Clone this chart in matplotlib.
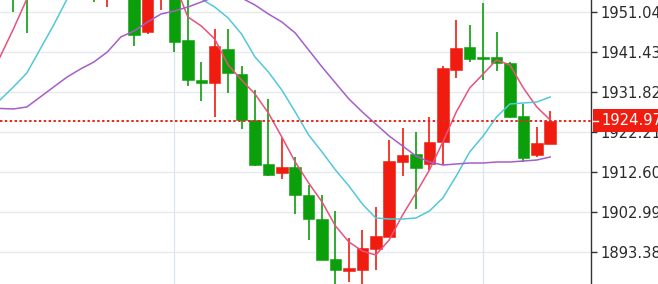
import numpy as np
import matplotlib
matplotlib.use("Agg")
import matplotlib.pyplot as plt
import matplotlib.transforms as mtransforms
from matplotlib.patches import Rectangle

nan = np.nan

# candles (index 0..41), nan = candle entirely above the visible window
opens = [nan, 1958.5, 1957.5, nan, nan, nan, nan, 1958.0, 1955.5, nan,
         1956.0, 1946.24, 1954.5, 1955.5, 1944.31, 1934.70, 1933.98, 1942.15, 1936.14, 1925.09,
         1914.52, 1912.36, 1913.80, 1907.08, 1901.31, 1891.70, 1888.82, 1889.06, 1894.10, 1896.98,
         1915.00, 1916.92, 1914.52, 1919.81, 1937.11, 1942.63, 1940.11, 1940.23, 1938.79, 1926.05,
         1916.68, 1919.33]
highs = [nan, 1960.0, 1959.0, nan, nan, nan, nan, 1961.0, 1960.0, nan,
         1958.0, 1957.0, 1958.0, 1957.0, 1954.5, 1939.03, 1946.96, 1946.96, 1938.07, 1932.30,
         1930.14, 1920.77, 1916.20, 1909.48, 1907.08, 1903.23, 1896.74, 1898.67, 1904.19, 1920.29,
         1923.17, 1922.21, 1925.81, 1938.07, 1949.12, 1947.92, 1953.20, 1946.24, 1939.03, 1928.94,
         1923.41, 1927.26]
lows = [nan, 1951.04, 1946.00, nan, nan, nan, nan, 1953.40, 1952.20, nan,
        1942.87, 1945.75, 1951.52, 1941.43, 1933.26, 1929.66, 1925.81, 1931.58, 1922.93, 1914.04,
        1911.64, 1910.92, 1902.51, 1896.26, 1891.46, 1884.50, 1886.17, 1885.20, 1889.06, 1896.98,
        1911.64, 1903.71, 1913.08, 1914.28, 1935.18, 1939.03, 1934.70, 1936.87, 1925.57, 1915.00,
        1916.20, 1919.33]
closes = [nan, 1956.0, 1955.0, nan, nan, nan, nan, 1956.5, 1958.5, nan,
          1945.51, 1955.0, 1957.0, 1943.83, 1934.70, 1933.98, 1942.87, 1936.38, 1925.09, 1914.28,
          1911.88, 1913.80, 1907.08, 1901.31, 1891.46, 1889.06, 1889.54, 1894.34, 1897.22, 1915.24,
          1916.68, 1913.56, 1919.81, 1937.59, 1942.39, 1939.75, 1939.75, 1938.79, 1925.81, 1915.96,
          1919.57, 1924.97]

# moving averages
ma5 = [1940.23, 1946.96, 1954.16, 1958.5, 1959.5, 1960.0, 1960.0, 1959.5, 1959.0, 1959.0,
       1958.5, 1958.5, 1958.2, 1958.0, 1949.84, 1947.68, 1944.55, 1938.31, 1934.70, 1931.34,
       1926.77, 1921.01, 1915.00, 1909.96, 1905.39, 1899.63, 1895.78, 1893.62, 1892.66, 1896.26,
       1902.27, 1907.56, 1913.08, 1919.81, 1927.02, 1932.78, 1936.14, 1939.51, 1938.31, 1932.78,
       1928.22, 1925.09]
ma10 = [1929.90, 1933.02, 1936.38, 1942.15, 1947.92, 1954.16, 1957.5, 1958.5, 1959.0, 1959.0,
        1959.0, 1958.5, 1958.0, 1957.5, 1956.33, 1954.16, 1952.24, 1949.60, 1945.75, 1940.23,
        1936.63, 1932.30, 1927.02, 1921.49, 1917.40, 1913.08, 1909.24, 1904.91, 1901.55, 1901.31,
        1901.31, 1901.55, 1903.23, 1906.35, 1911.64, 1917.40, 1921.25, 1925.81, 1928.94, 1929.18,
        1929.42, 1930.62]
ma20 = [1927.86, 1927.74, 1928.22, 1930.62, 1933.02, 1935.42, 1937.35, 1939.03, 1941.43, 1945.03,
        1946.48, 1948.64, 1950.56, 1951.28, 1952.24, 1953.44, 1954.64, 1955.12, 1954.40, 1952.72,
        1950.56, 1948.64, 1946.00, 1941.91, 1937.83, 1933.98, 1930.14, 1927.02, 1924.13, 1921.25,
        1918.85, 1916.44, 1915.00, 1914.28, 1914.52, 1914.76, 1914.76, 1915.00, 1915.00, 1915.24,
        1915.48, 1916.20]

price_ticks = [1893.38, 1902.99, 1912.60, 1922.21, 1931.82, 1941.43, 1951.04]
last_price = 1924.97
vgrid_idx = [13, 36]

RED = "#f01c10"
GREEN = "#0c9f0c"

o = np.array(opens)
h = np.array(highs)
l = np.array(lows)
c = np.array(closes)
x = np.arange(len(o))
cols = np.where(c >= o, RED, GREEN)
ok = ~np.isnan(o)

fig = plt.figure(figsize=(6.58, 2.84), dpi=100)
ax = fig.add_axes([0, 0, 591 / 658, 1])

ax.set_xlim(0, 44.04)
ax.set_ylim(1885.69, 1953.92)

# grid
for t in price_ticks:
    ax.axhline(t, color="#e6e9ee", lw=1.0, zorder=0)
for v in vgrid_idx:
    ax.axvline(v, color="#dde6ef", lw=1.0, zorder=0)

# candles
ax.vlines(x[ok], l[ok], h[ok], colors=cols[ok], lw=1.2, zorder=2)
ax.bar(x[ok], c[ok] - o[ok], bottom=o[ok], width=0.86, color=cols[ok],
       edgecolor=cols[ok], linewidth=0.4, zorder=3)

# moving averages
ax.plot(x, ma5, color="#e8527c", lw=1.1, zorder=4)
ax.plot(x, ma10, color="#52c8d8", lw=1.1, zorder=4)
ax.plot(x, ma20, color="#a65ec8", lw=1.1, zorder=4)

# last price line
ax.axhline(last_price, color="#e8261f", lw=1.4, ls=(0, (1.25, 1.25)), zorder=5)

# axis styling
for s in ["left", "top", "bottom"]:
    ax.spines[s].set_visible(False)
ax.spines["right"].set_color("#333333")
ax.spines["right"].set_linewidth(1.0)
ax.set_xticks([])
ax.yaxis.tick_right()
ax.set_yticks(price_ticks)
ax.set_yticklabels([f"{t:.2f}" for t in price_ticks])
ax.tick_params(axis="y", length=4, width=1, color="#333333", labelcolor="#2a2a2a",
               labelsize=10.6, pad=3)

# last price label box on the axis
trans = mtransforms.blended_transform_factory(ax.transAxes, ax.transData)
box_h = 23 * (1953.92 - 1885.69) / 284
ax.add_patch(Rectangle((1.003, last_price - box_h / 2), 0.2, box_h, transform=trans,
                       facecolor="#f01c10", edgecolor="none", clip_on=False, zorder=10))
ax.plot([1.003, 1.0115], [last_price, last_price], transform=trans, color="white",
        lw=1, clip_on=False, zorder=11)
ax.text(1.0185, last_price, f"{last_price:.2f}", transform=trans, color="white",
        fontsize=10.6, va="center", ha="left", zorder=12, clip_on=False)

fig.savefig("out.png", dpi=100)
